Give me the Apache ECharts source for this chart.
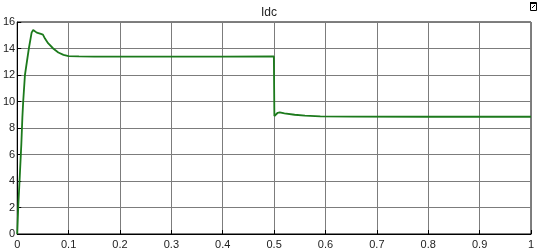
<!DOCTYPE html>
<html>
<head>
<meta charset="utf-8">
<script src="https://cdn.jsdelivr.net/npm/echarts@6/dist/echarts.min.js"></script>
<style>html,body{margin:0;padding:0;background:#fff;}#c{width:538px;height:251px;}</style>
</head>
<body>
<div id="c"></div>
<script>
var title = 'Idc';
var times = [0, 0.002, 0.005, 0.008, 0.010, 0.0116, 0.015, 0.0226, 0.028, 0.031, 0.034, 0.038, 0.041, 0.046, 0.050, 0.054, 0.060, 0.070, 0.080, 0.090, 0.100, 0.120, 0.150, 0.200, 0.300, 0.400, 0.4995, 0.5005, 0.503, 0.507, 0.511, 0.520, 0.540, 0.560, 0.590, 0.650, 0.800, 1.000];
var values = [0, 2.1, 4.4, 6.8, 8.8, 10.0, 12.0, 14.0, 15.2, 15.4, 15.3, 15.2, 15.15, 15.1, 15.05, 14.75, 14.4, 14.0, 13.7, 13.52, 13.43, 13.4, 13.38, 13.38, 13.38, 13.38, 13.4, 8.9, 9.05, 9.15, 9.18, 9.1, 9.0, 8.93, 8.88, 8.86, 8.85, 8.85];
var xTicks = [0, 0.1, 0.2, 0.3, 0.4, 0.5, 0.6, 0.7, 0.8, 0.9, 1];
var yTicks = [0, 2, 4, 6, 8, 10, 12, 14, 16];

var data = times.map(function (t, i) { return [t, values[i]]; });
var chart = echarts.init(document.getElementById('c'), null, {renderer: 'canvas'});
var font = 'Liberation Sans, Arial, sans-serif';
chart.setOption({
  animation: false,
  backgroundColor: '#fff',
  title: {text: title, left: 'center', top: 2, textStyle: {fontFamily: font, fontSize: 12, fontWeight: 'normal', color: '#222'}},
  grid: {left: 14, right: 7, top: 22, bottom: 17, show: true, borderColor: '#000', borderWidth: 1, containLabel: false},
  xAxis: {
    type: 'value', min: xTicks[0], max: xTicks[xTicks.length - 1], interval: 0.1,
    axisLine: {show: true, lineStyle: {color: '#000', width: 1}},
    axisTick: {show: true, inside: true, length: 4, lineStyle: {color: '#000'}},
    axisLabel: {fontFamily: font, fontSize: 11, color: '#222', margin: 5},
    splitLine: {show: true, lineStyle: {color: '#7c7c7c', width: 1}}
  },
  yAxis: {
    type: 'value', min: yTicks[0], max: yTicks[yTicks.length - 1], interval: 2,
    axisLine: {show: true, lineStyle: {color: '#000', width: 1}},
    axisTick: {show: true, inside: true, length: 4, lineStyle: {color: '#000'}},
    axisLabel: {fontFamily: font, fontSize: 11, color: '#222', margin: 2},
    splitLine: {show: true, lineStyle: {color: '#7c7c7c', width: 1}}
  },
  graphic: [
    {type: 'rect', left: 530, top: 2, shape: {width: 6, height: 8}, style: {fill: '#fff', stroke: '#000', lineWidth: 1}},
    {type: 'rect', left: 530, top: 2, shape: {width: 6, height: 2}, style: {fill: '#000'}},
    {type: 'line', shape: {x1: 532, y1: 8, x2: 535, y2: 5}, style: {stroke: '#000', lineWidth: 1}}
  ],
  series: [{
    type: 'line', data: data, showSymbol: false, smooth: false,
    lineStyle: {color: '#1c7a1c', width: 1.8},
    itemStyle: {color: '#1c7a1c'}
  }]
});
</script>
</body>
</html>
